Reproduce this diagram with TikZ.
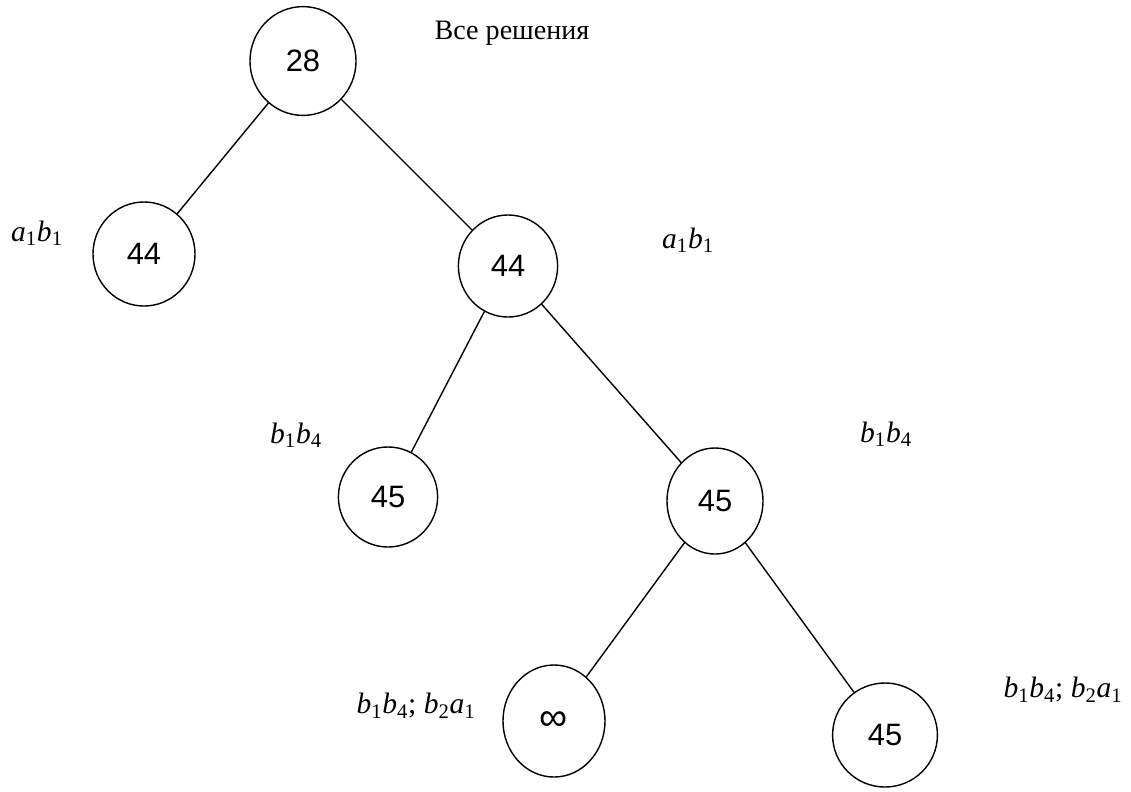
\documentclass[tikz,border=0pt]{standalone}
\usepackage{fontspec}
\setmainfont{Liberation Serif}
\newfontfamily\digitfont{Liberation Sans}
\usetikzlibrary{shapes.geometric}

\newcommand{\ix}[2]{\textit{#1}\textsubscript{#2}}

\tikzset{
    vert/.style={draw, ellipse, line width=1pt, inner sep=0pt,
        minimum width=2.55cm, minimum height=2.6cm,
        font=\digitfont\fontsize{22}{26}\selectfont},
    lbl/.style={font=\fontsize{21}{25}\selectfont},
    edge/.style={line width=1pt}
}

\begin{document}
\begin{tikzpicture}[x=0.025cm, y=-0.025cm]
    \useasboundingbox (0,0) rectangle (1131,791);

    % tree nodes
    \node[vert, minimum width=2.65cm, minimum height=2.72cm] (root) at (303,61) {28};
    \node[vert] (l) at (144,254) {44};
    \node[vert, minimum width=2.48cm, minimum height=2.55cm] (r) at (508,266) {44};
    \node[vert, minimum width=2.48cm, minimum height=2.5cm] (rl) at (388,497) {45};
    \node[vert, minimum width=2.4cm, minimum height=2.65cm] (rr) at (715,501) {45};
    \node[vert, minimum height=2.8cm] (rrl) at (554,721) {\fontsize{28}{30}\selectfont ∞};
    \node[vert, minimum width=2.62cm] (rrr) at (885,735) {45};

    % edges
    \draw[edge] (root) -- (l);
    \draw[edge] (root) -- (r);
    \draw[edge] (r) -- (rl);
    \draw[edge] (r) -- (rr);
    \draw[edge] (rr) -- (rrl);
    \draw[edge] (rr) -- (rrr);

    % labels
    \node[font=\fontsize{20}{24}\selectfont] (all) at (512,33) {Все решения};
    \node[lbl] (lab1) at (37,233) {\ix{a}{1}\ix{b}{1}};
    \node[lbl] (lab2) at (688,240) {\ix{a}{1}\ix{b}{1}};
    \node[lbl] (lab3) at (296,435) {\ix{b}{1}\ix{b}{4}};
    \node[lbl] (lab4) at (886,434) {\ix{b}{1}\ix{b}{4}};
    \node[lbl] (lab5) at (416,706) {\ix{b}{1}\ix{b}{4}; \ix{b}{2}\ix{a}{1}};
    \node[lbl] (lab6) at (1063,690) {\ix{b}{1}\ix{b}{4}; \ix{b}{2}\ix{a}{1}};

\end{tikzpicture}
\end{document}
